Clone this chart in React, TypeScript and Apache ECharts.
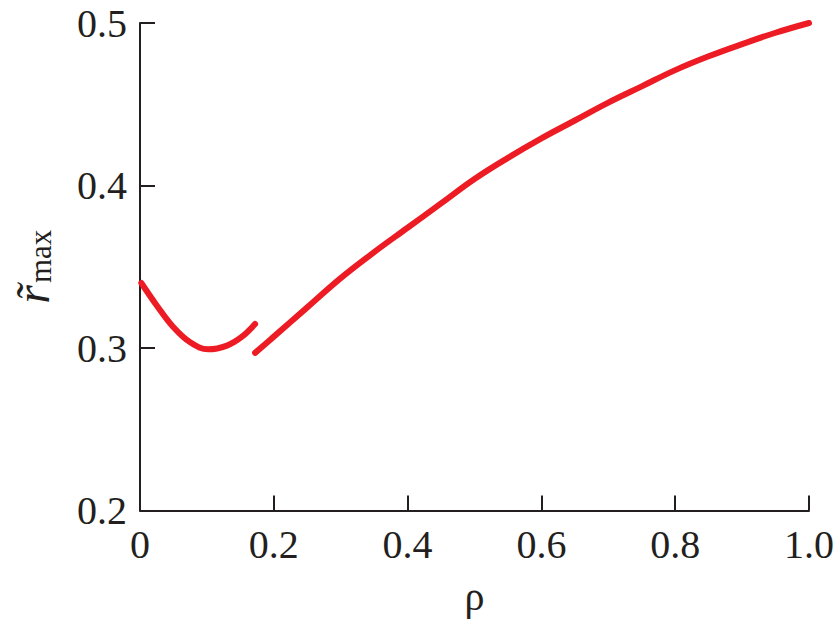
import React, { useEffect, useRef } from "react";
import * as echarts from "echarts";

const branch1X = [0.002, 0.025, 0.05, 0.075, 0.102, 0.13, 0.152, 0.172];
const branch1Y = [0.34, 0.3262, 0.3128, 0.3035, 0.2992, 0.3015, 0.3068, 0.3148];

const branch2X = [0.172, 0.2, 0.25, 0.3, 0.35, 0.4, 0.45, 0.5, 0.55, 0.6, 0.65, 0.7, 0.75, 0.8, 0.85, 0.9, 0.95, 1.0];
const branch2Y = [0.297, 0.307, 0.325, 0.343, 0.359, 0.374, 0.389, 0.404, 0.417, 0.429, 0.44, 0.451, 0.461, 0.471, 0.4795, 0.487, 0.494, 0.5];

const xTicks = ["0", "0.2", "0.4", "0.6", "0.8", "1.0"];
const yTicks = ["0.2", "0.3", "0.4", "0.5"];

const FONT = "Liberation Serif";
const INK = "#231f20";
const RED = "#ed1c24";

export default function App() {
  const ref = useRef<HTMLDivElement>(null);
  useEffect(() => {
    if (!ref.current) return;
    const chart = echarts.init(ref.current, undefined, { renderer: "svg" });
    const pair = (xs: number[], ys: number[]) => xs.map((x, i) => [x, ys[i]]);
    chart.setOption({
      animation: false,
      backgroundColor: "#ffffff",
      grid: { left: 138, right: 25, top: 23, bottom: 111.5, containLabel: false },
      xAxis: {
        type: "value",
        min: 0,
        max: 1,
        interval: 0.2,
        name: "ρ",
        nameLocation: "middle",
        nameGap: 66,
        nameTextStyle: { fontFamily: FONT, fontSize: 40, color: INK, lineHeight: 40 },
        axisLine: { show: true, lineStyle: { color: INK, width: 2 } },
        axisTick: { show: true, inside: true, length: 15, lineStyle: { color: INK, width: 2 } },
        splitLine: { show: false },
        axisLabel: {
          margin: 14,
          fontFamily: FONT,
          fontSize: 40,
          color: INK,
          formatter: (v: number) => xTicks[Math.round(v / 0.2)] ?? "",
        },
      },
      yAxis: {
        type: "value",
        min: 0.2,
        max: 0.5,
        interval: 0.1,
        name: "{r|r\u0303}{s|max}",
        nameLocation: "middle",
        nameRotate: 90,
        nameGap: 84,
        nameTextStyle: {
          rich: {
            r: { fontFamily: FONT, fontStyle: "italic", fontSize: 48, color: INK, lineHeight: 52, verticalAlign: "bottom" },
            s: { fontFamily: FONT, fontSize: 31, color: INK, lineHeight: 30, verticalAlign: "bottom", padding: [0, 0, 0, 2] },
          },
        },
        axisLine: { show: true, lineStyle: { color: INK, width: 2 } },
        axisTick: { show: true, inside: true, length: 15, lineStyle: { color: INK, width: 2 } },
        splitLine: { show: false },
        axisLabel: {
          margin: 13,
          fontFamily: FONT,
          fontSize: 40,
          color: INK,
          formatter: (v: number) => yTicks[Math.round((v - 0.2) / 0.1)] ?? "",
        },
      },
      series: [
        {
          type: "line",
          data: pair(branch1X, branch1Y),
          smooth: 0.4,
          showSymbol: false,
          lineStyle: { color: RED, width: 6, cap: "round" },
        },
        {
          type: "line",
          data: pair(branch2X, branch2Y),
          smooth: 0.4,
          showSymbol: false,
          lineStyle: { color: RED, width: 6, cap: "round" },
        },
      ],
    });
    return () => chart.dispose();
  }, []);
  return (
    <div style={{ width: 837, height: 622, position: "fixed", left: 0, top: 0, overflow: "hidden" }}>
      <div ref={ref} style={{ width: 837, height: 622 }} />
    </div>
  );
}
